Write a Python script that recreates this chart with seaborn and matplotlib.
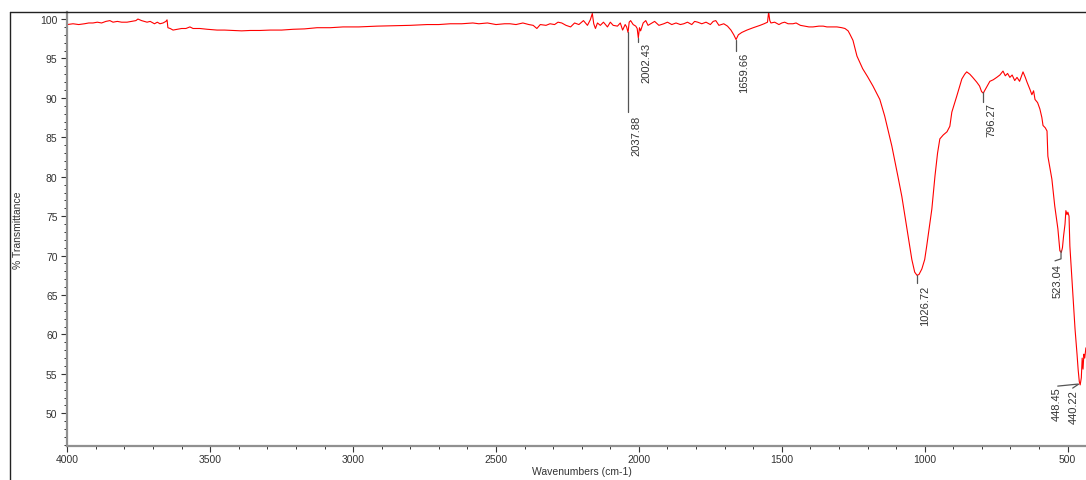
import matplotlib
matplotlib.use("Agg")
import matplotlib.pyplot as plt
from matplotlib.lines import Line2D
from matplotlib.ticker import MultipleLocator
import seaborn as sns
import pandas as pd

# ---------------- data ----------------
wavenumber = [
    4000, 3980, 3960, 3940, 3925, 3910, 3895, 3880, 3865, 3851, 3840, 3825, 3810, 3791, 3775, 3760,
    3753, 3740, 3721, 3710, 3695, 3685, 3676, 3665, 3655, 3651, 3648, 3640, 3630, 3615, 3600, 3585,
    3571, 3560, 3536, 3510, 3476, 3450, 3420, 3390, 3360, 3326, 3290, 3250, 3210, 3170, 3126, 3080,
    3035, 2980, 2916, 2860, 2800, 2741, 2700, 2660, 2620, 2581, 2560, 2530, 2500, 2470, 2451, 2430,
    2406, 2385, 2370, 2357, 2345, 2325, 2311, 2295, 2283, 2270, 2255, 2239, 2225, 2210, 2194, 2180,
    2170, 2163, 2158, 2152, 2145, 2135, 2124, 2110, 2100, 2090, 2075, 2065, 2057, 2048, 2043, 2038,
    2034, 2029, 2020, 2011, 2006, 2002, 1998, 1994, 1985, 1976, 1968, 1959, 1945, 1930, 1913, 1900,
    1885, 1870, 1855, 1843, 1830, 1815, 1805, 1794, 1780, 1765, 1750, 1740, 1731, 1720, 1703, 1690,
    1678, 1668, 1660, 1652, 1640, 1622, 1600, 1576, 1562, 1550, 1546, 1542, 1538, 1525, 1510, 1500,
    1490, 1478, 1461, 1450, 1435, 1420, 1405, 1391, 1370, 1355, 1342, 1325, 1307, 1290, 1279, 1268,
    1262, 1251, 1237, 1227, 1217, 1200, 1181, 1157, 1140, 1115, 1094, 1080, 1062, 1045, 1035, 1027,
    1020, 1010, 1000, 993, 975, 964, 955, 947, 935, 922, 912, 905, 888, 870, 860, 853,
    842, 832, 818, 808, 801, 795, 789, 783, 772, 760, 748, 737, 726, 718, 710, 702,
    694, 685, 677, 668, 660, 656, 648, 642, 632, 625, 619, 614, 605, 597, 590, 586,
    578, 572, 569, 555, 545, 534, 527, 522, 518, 514, 509, 506, 502, 499, 495, 492,
    485, 474, 467, 463, 459, 456, 452, 449, 446, 443, 440, 436,
]
transmittance = [
    99.3, 99.4, 99.3, 99.4, 99.5, 99.5, 99.6, 99.5, 99.7, 99.8, 99.6, 99.7, 99.6, 99.6, 99.7, 99.8,
    100.0, 99.8, 99.6, 99.7, 99.4, 99.6, 99.4, 99.5, 99.7, 99.9, 98.9, 98.8, 98.6, 98.7, 98.8, 98.8,
    99.0, 98.8, 98.8, 98.7, 98.6, 98.6, 98.55, 98.5, 98.55, 98.55, 98.6, 98.6, 98.7, 98.75, 98.9, 98.9,
    99.0, 99.0, 99.1, 99.15, 99.2, 99.3, 99.3, 99.4, 99.4, 99.5, 99.4, 99.5, 99.3, 99.4, 99.4, 99.3,
    99.5, 99.3, 99.2, 98.8, 99.3, 99.2, 99.4, 99.3, 99.6, 99.5, 99.2, 99.0, 99.5, 99.3, 99.8, 99.2,
    99.9, 100.7, 99.4, 98.8, 99.5, 99.2, 99.6, 99.0, 99.6, 99.2, 99.1, 99.5, 98.6, 99.3, 99.0, 98.3,
    99.6, 99.8, 99.3, 99.1, 98.8, 97.6, 98.9, 98.5, 99.5, 99.8, 99.2, 99.4, 99.7, 99.2, 99.4, 99.6,
    99.3, 99.5, 99.3, 99.4, 99.6, 99.3, 99.7, 99.6, 99.4, 99.6, 99.3, 99.7, 99.8, 99.2, 99.4, 99.1,
    98.6, 98.0, 97.4, 98.0, 98.3, 98.6, 98.9, 99.2, 99.4, 99.6, 100.9, 99.8, 99.5, 99.6, 99.3, 99.5,
    99.6, 99.4, 99.4, 99.5, 99.2, 99.1, 99.0, 99.0, 99.1, 99.1, 99.0, 99.0, 99.0, 98.9, 98.8, 98.5,
    98.1, 97.3, 95.3, 94.5, 93.7, 92.7, 91.5, 89.8, 87.7, 83.9, 80.1, 77.5, 73.4, 69.5, 67.9, 67.5,
    67.6, 68.3, 69.5, 71.2, 75.9, 80.1, 83.0, 84.8, 85.3, 85.7, 86.4, 88.2, 90.2, 92.4, 93.0, 93.3,
    93.0, 92.6, 92.0, 91.5, 90.8, 90.6, 91.0, 91.4, 92.1, 92.3, 92.6, 92.9, 93.4, 92.8, 93.1, 92.6,
    92.9, 92.2, 92.6, 92.1, 92.9, 93.3, 92.6, 92.0, 91.1, 90.4, 90.9, 89.8, 89.4, 88.6, 87.5, 86.5,
    86.2, 85.8, 82.6, 79.7, 76.3, 73.4, 70.6, 70.4, 71.0, 72.5, 74.0, 75.7, 75.2, 75.5, 75.0, 71.2,
    67.0, 60.7, 57.5, 55.5, 54.0, 53.6, 54.5, 57.0, 55.6, 57.5, 57.0, 58.3,
]

peak_labels = ["2037.88", "2002.43", "1659.66", "1026.72", "796.27", "523.04", "448.45", "440.22"]
peak_wn = [2037.88, 2002.43, 1659.66, 1026.72, 796.27, 523.04, 448.45, 440.22]
peak_T = [98.3, 97.6, 97.4, 67.6, 90.8, 70.6, 53.7, 53.7]

# leader paths (pixel offsets from the peak anchor) and text offsets
leader_paths = [
    [(0, 0), (0, -80)],
    [(0, 0), (0, -4)],
    [(0, 0), (0, -11)],
    [(0, 0), (0, -8)],
    [(0, 0), (0, -10)],
    [(0, 0), (0, -8), (-6, -10)],
    [(-4.6, 0), (-24.6, -2)],
    [(-6, 0), (-12, -4)],
]
text_offsets = [(3, -82), (3, -4), (3, -12), (3, -10), (3, -11), (-3.5, -12), (-25.6, -2.5), (-11, -5)]
text_ha = ["left", "left", "left", "left", "left", "center", "center", "center"]

x_major = [4000, 3500, 3000, 2500, 2000, 1500, 1000, 500]
y_major = [50, 55, 60, 65, 70, 75, 80, 85, 90, 95, 100]

# ---------------- figure ----------------
sns.set_style("white")
plt.rcParams["font.family"] = ["Liberation Sans", "DejaVu Sans"]

W, H = 1086, 481
fig = plt.figure(figsize=(W / 100, H / 100), dpi=100)
left_px, right_px, top_px, bottom_px = 67.3, 1086, 12.7, 447
ax = fig.add_axes([left_px / W, 1 - bottom_px / H, (right_px - left_px) / W, (bottom_px - top_px) / H])

df = pd.DataFrame({"Wavenumber": wavenumber, "T": transmittance})
sns.lineplot(data=df, x="Wavenumber", y="T", color="#ff0000", linewidth=0.8,
             estimator=None, sort=True, ax=ax)

ax.set_xlim(4000, 435.6)
ax.set_ylim(45.85, 100.93)
ax.set_xticks(x_major)
ax.set_xticklabels([str(v) for v in x_major])
ax.set_yticks(y_major)
ax.set_yticklabels([str(v) for v in y_major])
ax.xaxis.set_minor_locator(MultipleLocator(100))
ax.yaxis.set_minor_locator(MultipleLocator(1))

tick_col = "#333333"
ax.tick_params(axis="both", which="both", bottom=True, left=True, top=False, right=False)
ax.tick_params(axis="both", which="major", direction="out", length=4, width=0.8,
               color=tick_col, labelcolor="#333333", labelsize=7.5, pad=3)
ax.tick_params(axis="both", which="minor", direction="out", length=2, width=0.7, color=tick_col)
ax.tick_params(axis="x", which="major", pad=2)

for s in ["top", "right"]:
    ax.spines[s].set_visible(False)
for s in ["left", "bottom"]:
    ax.spines[s].set_color("#909090")
    ax.spines[s].set_linewidth(1.6)

ax.set_xlabel("Wavenumbers (cm-1)", fontsize=7.5, color="#333333")
ax.set_ylabel("% Transmittance", fontsize=7.5, color="#333333")
ax.xaxis.set_label_coords((582 - left_px) / (right_px - left_px), (bottom_px - 467) / (bottom_px - top_px))
ax.yaxis.set_label_coords((23 - left_px) / (right_px - left_px), 0.5)

# outer frame (top and left)
fig.add_artist(Line2D([10 / W, 1], [1 - top_px / H, 1 - top_px / H], transform=fig.transFigure,
                      color="#222222", linewidth=1.0))
fig.add_artist(Line2D([10 / W, 10 / W], [0, 1 - top_px / H], transform=fig.transFigure,
                      color="#222222", linewidth=1.0))

# peak annotations
fig.canvas.draw()
for lab, wn, t, path, (dx, dy), ha in zip(peak_labels, peak_wn, peak_T, leader_paths, text_offsets, text_ha):
    px, py = ax.transData.transform((wn, t))
    xs = [px + ox for ox, oy in path]
    ys = [py + oy for ox, oy in path]
    fig.add_artist(Line2D(xs, ys, transform=None, color="#555555", linewidth=0.9))
    fig.text((px + dx) / W, (py + dy) / H, lab, rotation=90, ha=ha, va="top",
             fontsize=8, color="#333333")

fig.savefig("out.png", dpi=100)
